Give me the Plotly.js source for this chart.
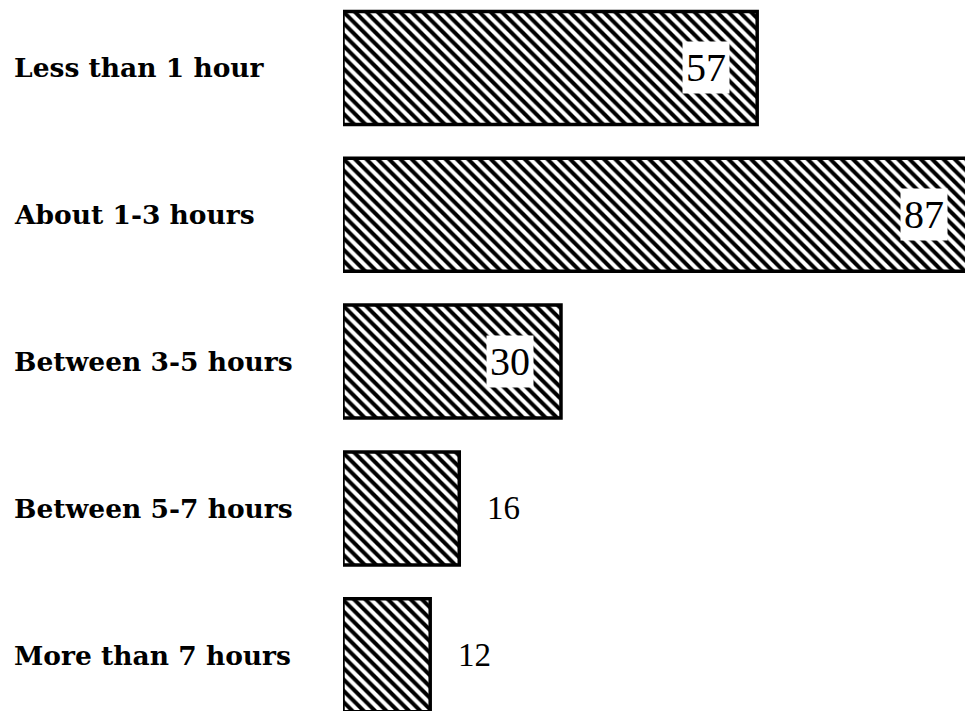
<!DOCTYPE html>
<html>
<head>
<meta charset="utf-8">
<script src="https://cdn.plot.ly/plotly-3.0.1.min.js"></script>
<style>html,body{margin:0;padding:0;background:#fff;}#chart{width:965px;height:711px;}</style>
</head>
<body>
<div id="chart"></div>
<script>
const categories = ["Less than 1 hour", "About 1-3 hours", "Between 3-5 hours", "Between 5-7 hours", "More than 7 hours"];
const values = [57, 87, 30, 16, 12];
const valueLabels = ["57", "87", "30", "16", "12"];

const labelFont = {family: "DejaVu Serif", size: 26.5, color: "#000", weight: "bold"};
const numFont = {family: "Liberation Serif", size: 40, color: "#000"};
const outFont = {family: "Liberation Serif", size: 33, color: "#000"};

const trace = {
  type: "bar",
  orientation: "h",
  y: categories,
  x: values,
  width: 0.77,
  marker: {
    color: "#fff",
    line: {color: "#000", width: 3.5},
    pattern: {shape: "\\", fgcolor: "#000", bgcolor: "#fff", size: 8, solidity: 0.5, fillmode: "replace"}
  },
  hoverinfo: "none"
};

const annotations = [];
categories.forEach((c, i) => {
  annotations.push({
    xref: "paper", yref: "y", x: -0.532, y: c, xanchor: "left", yanchor: "middle",
    text: c, showarrow: false, font: labelFont
  });
  const inside = values[i] >= 30;
  annotations.push({
    xref: "x", yref: "y", x: inside ? values[i] - 7 : values[i], y: c,
    xanchor: inside ? "center" : "left", xshift: inside ? 0 : 24,
    text: valueLabels[i], showarrow: false,
    font: inside ? numFont : outFont,
    bgcolor: inside ? "#fff" : "rgba(0,0,0,0)", borderpad: 3
  });
});

const layout = {
  width: 965, height: 711,
  margin: {l: 343, r: 0, t: 0, b: 0, pad: 0},
  paper_bgcolor: "#fff", plot_bgcolor: "#fff",
  showlegend: false,
  xaxis: {range: [0, 85.6], visible: false, fixedrange: true},
  yaxis: {type: "category", range: [4.38, -0.463], visible: false, fixedrange: true},
  annotations: annotations
};

Plotly.newPlot("chart", [trace], layout, {staticPlot: true, displayModeBar: false});
</script>
</body>
</html>
